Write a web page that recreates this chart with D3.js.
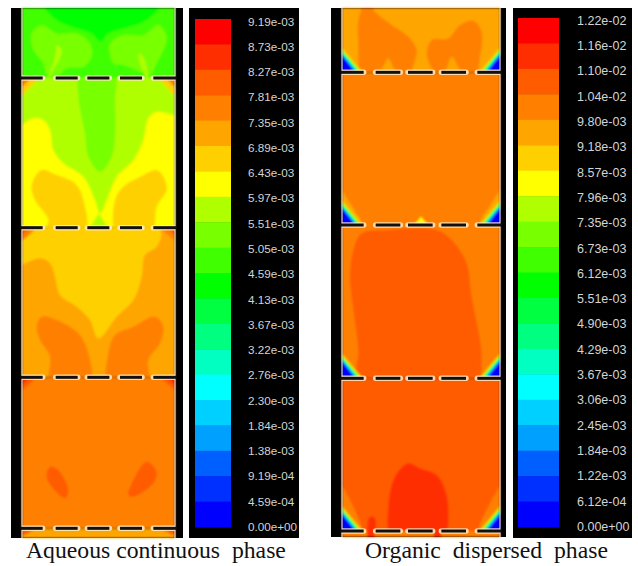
<!DOCTYPE html>
<html>
<head>
<meta charset="utf-8">
<script src="https://cdn.jsdelivr.net/npm/d3@7"></script>
<style>
  html, body { margin: 0; background: #fff; }
  svg { display: block; }
  text { white-space: pre; }
</style>
</head>
<body>
<div id="chart"></div>
<script>
// legend tick labels, top to bottom
const aqueousTicks = ['9.19e-03','8.73e-03','8.27e-03','7.81e-03','7.35e-03','6.89e-03','6.43e-03','5.97e-03','5.51e-03','5.05e-03','4.59e-03','4.13e-03','3.67e-03','3.22e-03','2.76e-03','2.30e-03','1.84e-03','1.38e-03','9.19e-04','4.59e-04','0.00e+00'];
const organicTicks = ['1.22e-02','1.16e-02','1.10e-02','1.04e-02','9.80e-03','9.18e-03','8.57e-03','7.96e-03','7.35e-03','6.73e-03','6.12e-03','5.51e-03','4.90e-03','4.29e-03','3.67e-03','3.06e-03','2.45e-03','1.84e-03','1.22e-03','6.12e-04','0.00e+00'];

// contour bands, lowest first
const bandColors = ['#0000ff','#0030ff','#0060ff','#00a0ff','#00d0ff','#00ffff','#00ffc0','#00ff80','#00ff40','#00ff00','#40ff00','#78ff00','#b0ff00','#ffff00','#ffd000','#ffa500','#ff8000','#ff5c00','#ff2e00','#ff0000'];

// column geometry, in mesh units
const aqueousCells = [24, 234, 683, 1132, 1585, 1614];
const organicCells = [24, 217, 675, 1135, 1593, 1611];
const aqueousPlates = [234, 683, 1132, 1585];
const organicPlates = [217, 675, 1135, 1593];
const aqueousDashes = [[60,130],[165,235],[260,330],[358,428],[458,531]];
const organicDashes = [[60,133],[165,243],[262,340],[362,440],[470,546]];

// band that fills each cell before the contours go on top
const aqueousBase = [10, 13, 15, 16, 15];
const organicBase = [15, 16, 16, 17, 16];

const aqueousRegions = [
  {cell: 0, band: 9, points: [[130,10],[480,10],[440,60],[370,85],[325,100],[300,125],[275,100],[230,85],[170,60]]},
  {cell: 0, band: 11, points: [[95,100],[125,75],[170,100],[230,100],[270,130],[275,170],[250,200],[200,205],[175,225],[140,225],[130,190],[100,150]]},
  {cell: 0, band: 11, points: [[330,130],[370,105],[430,105],[475,75],[500,110],[490,150],[470,190],[450,225],[420,215],[370,195],[340,190]]},
  {cell: 0, band: 12, points: [[140,245],[165,200],[178,180],[185,150],[170,135],[165,170],[155,200]]},
  {cell: 0, band: 12, points: [[445,245],[420,190],[415,160],[430,170],[440,200]]},
  {cell: 1, band: 12, points: [[40,210],[550,210],[550,345],[470,335],[445,355],[430,420],[400,480],[350,530],[320,600],[300,640],[285,600],[250,530],[190,490],[160,450],[150,390],[130,360],[100,355],[40,385]]},
  {cell: 1, band: 11, points: [[240,220],[345,220],[345,300],[345,400],[335,470],[300,515],[265,470],[255,400],[235,290]]},
  {cell: 1, band: 14, points: [[125,510],[170,525],[225,550],[250,600],[255,700],[135,700],[145,660],[105,600],[95,555]]},
  {cell: 1, band: 14, points: [[470,510],[490,530],[500,570],[470,620],[455,700],[350,700],[345,600],[370,560],[420,530]]},
  {cell: 1, band: 12, points: [[296,640],[322,680],[272,680]]},
  {cell: 2, band: 14, points: [[90,690],[480,690],[470,740],[435,765],[425,830],[400,900],[350,950],[295,1015],[270,960],[230,920],[180,885],[165,830],[150,790],[120,775],[40,800],[40,755]]},
  {cell: 2, band: 16, points: [[125,950],[170,960],[235,1000],[265,1060],[270,1150],[150,1150],[150,1070],[120,1020],[110,980]]},
  {cell: 2, band: 16, points: [[465,950],[490,980],[480,1030],[445,1080],[445,1150],[325,1150],[325,1060],[345,1005],[400,980]]},
  {cell: 3, band: 17, points: [[150,1400],[175,1410],[205,1470],[195,1495],[140,1435]]},
  {cell: 3, band: 17, points: [[440,1385],[470,1415],[460,1450],[400,1490],[385,1485],[405,1430]]}
];

// small warm wedges under each plate: cell, band, width, height
const aqueousCorners = [
  {cell: 1, band: 14, w: 50, h: 55}, {cell: 1, band: 16, w: 28, h: 28},
  {cell: 2, band: 16, w: 45, h: 40}, {cell: 2, band: 17, w: 25, h: 22},
  {cell: 3, band: 17, w: 45, h: 40}, {cell: 3, band: 18, w: 25, h: 24},
  {cell: 4, band: 17, w: 45, h: 24}
];

const organicRegions = [
  {cell: 0, band: 16, points: [[140,5],[170,40],[215,75],[265,110],[290,150],[280,195],[265,230],[225,210],[205,175],[185,205],[125,230],[115,130],[115,60]]},
  {cell: 0, band: 16, points: [[320,160],[335,120],[385,115],[420,75],[460,62],[485,95],[480,170],[465,230],[425,215],[395,170],[375,215],[350,230],[330,195]]},
  {cell: 1, band: 15, points: [[40,545],[90,610],[125,680],[40,680]]},
  {cell: 1, band: 15, points: [[566,545],[515,610],[480,680],[566,680]]},
  {cell: 1, band: 13, points: [[303,650],[328,680],[278,680]]},
  {cell: 2, band: 17, points: [[125,700],[200,690],[350,690],[400,725],[440,790],[455,890],[480,1020],[485,1080],[470,1150],[115,1150],[115,1050],[100,930],[90,830],[100,750]]},
  {cell: 3, band: 16, points: [[40,1430],[100,1520],[125,1610],[40,1610]]},
  {cell: 3, band: 16, points: [[566,1430],[510,1510],[475,1610],[566,1610]]},
  {cell: 3, band: 18, points: [[265,1390],[300,1405],[350,1425],[375,1470],[385,1530],[370,1610],[215,1610],[205,1520],[225,1430]]},
  {cell: 3, band: 18, points: [[150,1550],[165,1555],[160,1610],[145,1610],[145,1560]]},
  {cell: 4, band: 18, points: [[145,1585],[160,1585],[160,1625],[145,1625]]},
  {cell: 4, band: 18, points: [[345,1585],[360,1585],[360,1625],[345,1625]]}
];

// nested low-value wedges sitting on each plate at the walls
const organicWedgeBands = [14, 12, 9, 7, 5, 3, 0];
const organicWedgeWidths = [62, 58, 54, 50, 47, 44, 40];
const organicWedgeHeights = [74, 69, 65, 61, 58, 55, 52];

const width = 638, height = 566;

const svg = d3.select('#chart').append('svg')
    .attr('width', width)
    .attr('height', height);

const defs = svg.append('defs');
defs.append('filter').attr('id', 'soft')
    .append('feGaussianBlur').attr('stdDeviation', 0.8);

const smooth = d3.curveCatmullRomClosed.alpha(0.5);

/**
 * One column with its plates
 */
const drawColumn = (cfg) => {
    const x = d3.scaleLinear().domain(cfg.xDomain).range(cfg.xRange);
    const y = d3.scaleLinear().domain([24, 1614]).range([8, 538]);
    const bottom = cfg.cells[cfg.cells.length - 1];
    const g = svg.append('g');

    g.append('rect')
        .attr('x', cfg.frame[0])
        .attr('y', y(24))
        .attr('width', cfg.frame[1] - cfg.frame[0])
        .attr('height', y(bottom) - y(24))
        .attr('fill', '#000');

    defs.append('clipPath').attr('id', `${cfg.id}-inner`)
        .append('rect')
        .attr('x', x(cfg.xDomain[0]))
        .attr('y', y(24))
        .attr('width', x(cfg.xDomain[1]) - x(cfg.xDomain[0]))
        .attr('height', y(bottom) - y(24));

    const field = g.append('g').attr('filter', 'url(#soft)');
    const line = d3.line().x(d => x(d[0])).y(d => y(d[1]));

    d3.pairs(cfg.cells).forEach((pair, i) => {
        const id = `${cfg.id}-cell-${i}`;
        defs.append('clipPath').attr('id', id)
            .append('rect')
            .attr('x', x(cfg.xDomain[0]))
            .attr('y', y(pair[0]))
            .attr('width', x(cfg.xDomain[1]) - x(cfg.xDomain[0]))
            .attr('height', y(pair[1]) - y(pair[0]));

        const cell = field.append('g').attr('clip-path', `url(#${id})`);

        cell.append('rect')
            .attr('x', x(cfg.xDomain[0]))
            .attr('y', y(pair[0]))
            .attr('width', x(cfg.xDomain[1]) - x(cfg.xDomain[0]))
            .attr('height', y(pair[1]) - y(pair[0]))
            .attr('fill', bandColors[cfg.base[i]]);

        cell.selectAll('path.region')
            .data(cfg.regions.filter(r => r.cell === i))
            .enter()
            .append('path')
            .attr('class', 'region')
            .attr('d', d => line.curve(d.points.length > 3 ? smooth : d3.curveLinearClosed)(d.points))
            .attr('fill', d => bandColors[d.band]);

        line.curve(d3.curveLinearClosed);
        (cfg.corners || []).filter(c => c.cell === i).forEach(c => {
            const [x0, x1] = cfg.xDomain;
            [[x0, c.w], [x1, -c.w]].forEach(([edge, w]) => {
                cell.append('path')
                    .attr('d', line([[edge, pair[0]], [edge + w, pair[0]], [edge, pair[0] + c.h]]))
                    .attr('fill', bandColors[c.band]);
            });
        });

        // wedges rest on the plate that closes the cell
        if (cfg.wedges && i < cfg.plates.length) {
            const [x0, x1] = cfg.xDomain;
            organicWedgeBands.forEach((band, k) => {
                const w = organicWedgeWidths[k], h = organicWedgeHeights[k];
                [[x0, w], [x1, -w]].forEach(([edge, dw]) => {
                    cell.append('path')
                        .attr('d', line([[edge, pair[1] - h], [edge + dw, pair[1]], [edge, pair[1]]]))
                        .attr('fill', bandColors[band]);
                });
            });
        }
    });

    // walls
    g.selectAll('line.wall')
        .data(cfg.xDomain)
        .enter()
        .append('line')
        .attr('class', 'wall')
        .attr('x1', d => x(d)).attr('x2', d => x(d))
        .attr('y1', y(24)).attr('y2', y(bottom))
        .attr('stroke', '#ffeedd')
        .attr('stroke-opacity', 0.7)
        .attr('stroke-width', 1.5);

    // perforated plates: pale halo first, dark core on top
    const halos = g.append('g').attr('clip-path', `url(#${cfg.id}-inner)`);
    cfg.plates.forEach(p => {
        cfg.dashes.forEach(dash => {
            halos.append('line')
                .attr('x1', x(dash[0] + 2)).attr('x2', x(dash[1] - 2))
                .attr('y1', y(p)).attr('y2', y(p))
                .attr('stroke', 'rgba(255,235,200,0.85)')
                .attr('stroke-width', 5.5)
                .attr('stroke-linecap', 'round');
        });
    });
    cfg.plates.forEach(p => {
        cfg.dashes.forEach(dash => {
            g.append('line')
                .attr('x1', x(dash[0] + 2)).attr('x2', x(dash[1] - 2))
                .attr('y1', y(p)).attr('y2', y(p))
                .attr('stroke', '#111')
                .attr('stroke-width', 3);
        });
    });
};

/**
 * Colour bar on its black box
 */
const drawLegend = (cfg) => {
    const y = d3.scalePoint().domain(cfg.ticks).range(cfg.barY);
    const labelY = d3.scalePoint().domain(cfg.ticks).range(cfg.labelRange);
    const g = svg.append('g');

    g.append('rect')
        .attr('x', cfg.box[0]).attr('y', 8)
        .attr('width', cfg.box[1] - cfg.box[0]).attr('height', 530)
        .attr('fill', '#000');

    g.selectAll('rect.band')
        .data(d3.pairs(cfg.ticks))
        .enter()
        .append('rect')
        .attr('class', 'band')
        .attr('x', cfg.bar[0])
        .attr('width', cfg.bar[1] - cfg.bar[0])
        .attr('y', d => y(d[0]))
        .attr('height', d => y(d[1]) - y(d[0]) + 0.5)
        .attr('fill', (d, i) => bandColors[bandColors.length - 1 - i]);

    g.selectAll('text')
        .data(cfg.ticks)
        .enter()
        .append('text')
        .attr('x', cfg.labelX)
        .attr('y', d => labelY(d) + 4)
        .attr('font-family', '"Liberation Sans", Arial, sans-serif')
        .attr('font-size', cfg.fontSize)
        .attr('fill', '#d4d4d4')
        .text(d => d);
};

drawColumn({
    id: 'aqueous',
    xDomain: [66, 525], xRange: [22, 175], frame: [11, 183],
    cells: aqueousCells, base: aqueousBase, plates: aqueousPlates, dashes: aqueousDashes,
    regions: aqueousRegions, corners: aqueousCorners, wedges: false
});
drawColumn({
    id: 'organic',
    xDomain: [66, 540], xRange: [342, 500], frame: [331, 506],
    cells: organicCells, base: organicBase, plates: organicPlates, dashes: organicDashes,
    regions: organicRegions, wedges: true
});

drawLegend({ticks: aqueousTicks, box: [189, 299], bar: [195, 231], barY: [19, 527], labelRange: [21.5, 527], labelX: 248, fontSize: 11.7});
drawLegend({ticks: organicTicks, box: [513, 632], bar: [518, 559], barY: [18, 527], labelRange: [20.7, 527], labelX: 577, fontSize: 12.5});

// captions under the columns
svg.selectAll('text.caption')
    .data([{t: 'Aqueous continuous  phase', x: 26}, {t: 'Organic  dispersed  phase', x: 365}])
    .enter()
    .append('text')
    .attr('class', 'caption')
    .attr('x', d => d.x)
    .attr('y', 558)
    .attr('font-family', '"Liberation Serif", "Times New Roman", serif')
    .attr('font-size', 23.7)
    .attr('fill', '#111')
    .text(d => d.t);
</script>
</body>
</html>
